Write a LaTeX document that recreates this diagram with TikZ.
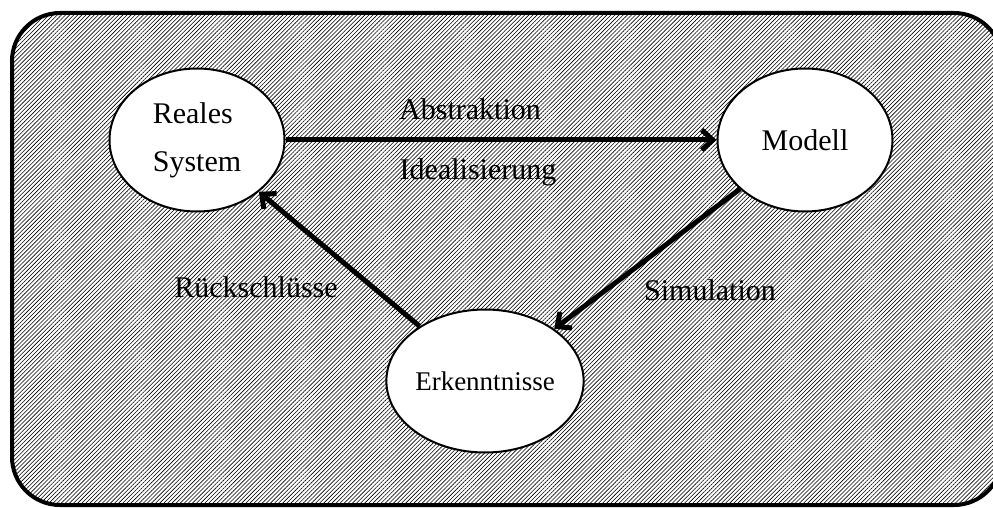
\documentclass[tikz,border=0pt]{standalone}
\usepackage{fontspec}
\setmainfont{Liberation Serif}
\usetikzlibrary{positioning, arrows.meta, shapes.geometric, patterns.meta}

\begin{document}
\begin{tikzpicture}[x=1pt, y=1pt, font=\fontsize{30}{48}\selectfont,
    stage/.style={ellipse, draw, line width=2pt, fill=white, inner sep=0pt,
                  minimum width=175pt, minimum height=143pt, align=left},
    flow/.style={-{Straight Barb[length=11pt, width=20pt]}, line width=5pt}]
    \useasboundingbox (0,0) rectangle (993,507);
    % hatched frame
    \draw[line width=4pt, rounded corners=48pt,
          pattern={Lines[angle=45, distance=2.9pt, line width=0.6pt]}]
      (12,2) rectangle (1002,494);
    \node[stage] (real) at (197,367) {Reales\\System};
    \node[stage] (modell) at (805,367) {Modell};
    \node[stage, font=\fontsize{27}{32}\selectfont] (erk) at (485,126) {Erkenntnisse};
    \draw[flow] (real) -- (modell);
    \draw[flow] (modell) -- (erk);
    \draw[flow] (erk) -- (real);
    \node[anchor=base] (abstr) at (470,387) {Abstraktion};
    \node[anchor=base] (ideal) at (478,327) {Idealisierung};
    \node[anchor=base] (rueck) at (256,210) {Rückschlüsse};
    \node[anchor=base] (simul) at (710,207) {Simulation};
  \end{tikzpicture}
\end{document}
